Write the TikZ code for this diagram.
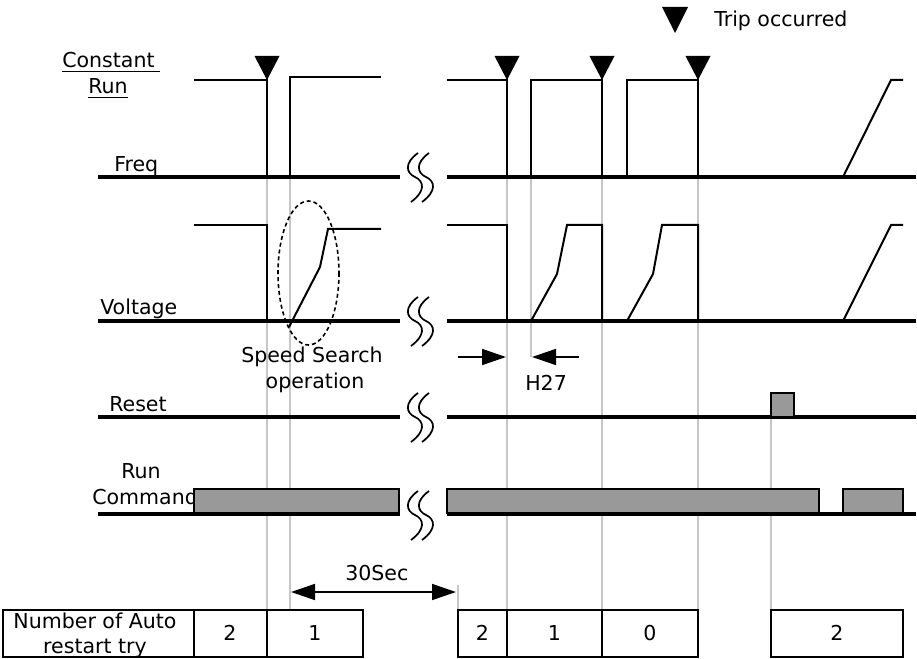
\documentclass[tikz,border=0pt]{standalone}
\usepackage{fontspec}
\setmainfont{DejaVu Sans}
\usetikzlibrary{arrows.meta}
\begin{document}
\begin{tikzpicture}[x=0.75pt,y=-0.75pt,
  lbl/.style={inner sep=0pt, font=\fontsize{15.4}{18}\selectfont},
  axisline/.style={line width=2.4pt},
  sig/.style={line width=1.5pt},
  guide/.style={line width=1.1pt, draw=black!22},
  bar/.style={draw, line width=1.4pt, fill=black!40},
  cell/.style={draw, line width=1.4pt},
  brk/.style={line width=1.3pt},
  dimarrow/.style={line width=1.2pt, -{Triangle[length=18pt,width=12pt]}},
  both/.style={line width=1.2pt, {Triangle[length=18pt,width=12pt]}-{Triangle[length=18pt,width=12pt]}},
  ssellipse/.style={line width=1.2pt, dash pattern=on 3pt off 2.2pt},
]
\useasboundingbox (0,0) rectangle (917,659);

% guide lines
\foreach \x in {267,290,507,602,698} \draw[guide] (\x,177) -- (\x,610);
\draw[guide] (531,177) -- (531,357);
\draw[guide] (771,417) -- (771,610);
\draw[guide] (458,585) -- (458,610);

% legend
\fill (662,7) -- (688,7) -- (675,33) -- cycle;
\node[lbl, anchor=base west] (trip) at (714,27) {Trip occurred};

% labels
\node[lbl, anchor=base west] (cst) at (62,68) {Constant};
\draw[line width=1pt] (62,71.5) -- (160,71.5);
\node[lbl, anchor=base west] (crun) at (88,94) {Run};
\draw[line width=1pt] (88,97.5) -- (128,97.5);
\node[lbl, anchor=base west] (freq) at (114,172) {Freq};
\node[lbl, anchor=base west] (volt) at (100,315) {Voltage};
\node[lbl, anchor=base] (ss1) at (312,362) {Speed Search};
\node[lbl, anchor=base] (ss2) at (315,388) {operation};
\node[lbl, anchor=base west] (h27) at (525,390) {H27};
\node[lbl, anchor=base west] (reset) at (109,411) {Reset};
\node[lbl, anchor=base west] (run) at (121,478) {Run};
\node[lbl, anchor=base west] (cmd) at (92,504) {Command};
\node[lbl, anchor=base west] (sec) at (345,580) {30Sec};

% trip markers
\foreach \x in {267,507,602,698} \fill ({\x-12.5},56) -- ({\x+12.5},56) -- (\x,80) -- cycle;

% Freq
\draw[axisline] (98,177) -- (400,177);
\draw[axisline] (447,177) -- (916,177);
\draw[sig] (194,80) -- (267,80) -- (267,177);
\draw[sig] (290,177) -- (290,77) -- (381,77);
\draw[sig] (447,80) -- (507,80) -- (507,177);
\draw[sig] (531,177) -- (531,80) -- (602,80) -- (602,177);
\draw[sig] (627,177) -- (627,80) -- (698,80) -- (698,177);
\draw[sig] (843,177) -- (891,80) -- (903,80);

% Voltage
\draw[axisline] (98,321) -- (400,321);
\draw[axisline] (447,321) -- (916,321);
\draw[sig] (194,225) -- (267,225) -- (267,321);
\draw[sig] (289,327) -- (320,267) -- (328,229) -- (381,229);
\draw[sig] (447,225) -- (507,225) -- (507,321);
\draw[sig] (531,321) -- (557,274) -- (567,225) -- (602,225) -- (602,321);
\draw[sig] (627,321) -- (653,274) -- (662,225) -- (698,225) -- (698,321);
\draw[sig] (843,321) -- (891,225) -- (903,225);
\draw[ssellipse] (308.5,273) ellipse [x radius=30.5, y radius=72];

% Reset
\draw[axisline] (98,417) -- (400,417);
\draw[axisline] (447,417) -- (916,417);
\draw[bar] (771,417) rectangle (794,393);

% Run command
\draw[axisline] (98,514) -- (400,514);
\draw[axisline] (447,514) -- (916,514);
\draw[bar] (194,489) rectangle (399,513);
\draw[bar] (447,489) rectangle (819,513);
\draw[bar] (843,489) rectangle (903,513);

% break symbols
\foreach \y in {177,321,417,515}
  \foreach \x in {408,419}
    \draw[brk] ({\x+10},{\y-24}) .. controls ({\x-4},{\y-14}) and ({\x-2},{\y-4}) .. ({\x+7},{\y})
                             .. controls ({\x+16},{\y+4}) and ({\x+18},{\y+14}) .. ({\x+3},{\y+25});

% H27 arrows
\draw[dimarrow] (458,357) -- (506,357);
\draw[dimarrow] (579,357) -- (532,357);

% 30 sec
\draw[both] (291,592) -- (456,592);

% table
\draw[cell] (3,610) rectangle (194,657);
\draw[cell] (194,610) rectangle (267,657);
\draw[cell] (267,610) rectangle (363,657);
\draw[cell] (458,610) rectangle (507,657);
\draw[cell] (507,610) rectangle (602,657);
\draw[cell] (602,610) rectangle (698,657);
\draw[cell] (771,610) rectangle (903,657);
\node[lbl, anchor=base] (t1) at (95,628) {Number of Auto};
\node[lbl, anchor=base] (t2) at (95,653) {restart try};
\node[lbl, anchor=base] (c1) at (230,640) {2};
\node[lbl, anchor=base] (c2) at (315,640) {1};
\node[lbl, anchor=base] (c3) at (482.5,640) {2};
\node[lbl, anchor=base] (c4) at (554.5,640) {1};
\node[lbl, anchor=base] (c5) at (650,640) {0};
\node[lbl, anchor=base] (c6) at (837,640) {2};
\end{tikzpicture}
\end{document}
